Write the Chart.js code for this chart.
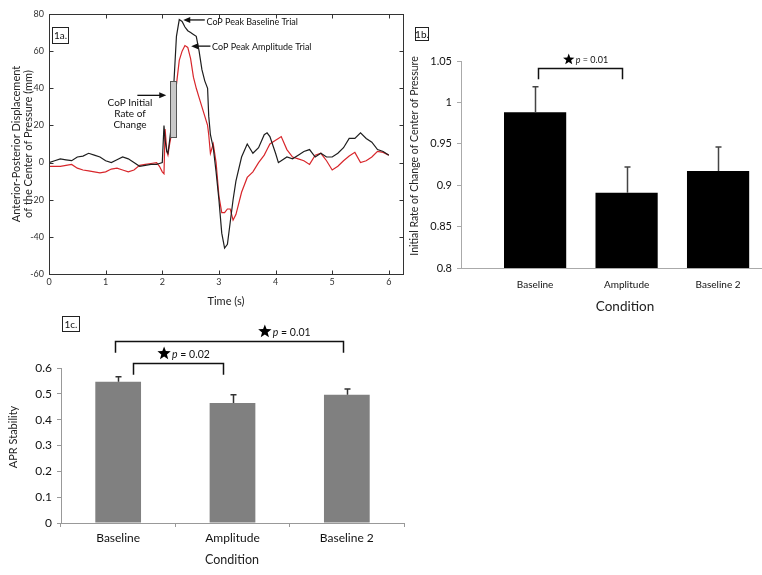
<!DOCTYPE html>
<html>
<head>
<meta charset="utf-8">
<script src="https://cdn.jsdelivr.net/npm/chart.js@4.4.0/dist/chart.umd.min.js"></script>
<style>
  html, body { margin: 0; padding: 0; background: #fff; }
  #wrap { position: relative; width: 762px; height: 575px; overflow: hidden; }
  canvas { position: absolute; }
</style>
</head>
<body>
<div id="wrap">
  <canvas id="chartA" width="410" height="310" style="left:0;top:0"></canvas>
  <canvas id="chartB" width="372" height="300" style="left:390px;top:20px"></canvas>
  <canvas id="chartC" width="420" height="265" style="left:0;top:310px"></canvas>
</div>
<script>
// ---- 1a: CoP trace (mm) ----
const timeS = [0, 0.1, 0.2, 0.3, 0.4, 0.5, 0.6, 0.7, 0.8, 0.9, 1.0, 1.1, 1.2, 1.3, 1.4, 1.5, 1.6, 1.7, 1.8, 1.9, 1.95,
  2.0, 2.03, 2.05, 2.08, 2.1, 2.13, 2.16, 2.2, 2.25, 2.3, 2.35, 2.4, 2.45, 2.5, 2.55, 2.6, 2.65, 2.7, 2.75, 2.8, 2.82,
  2.85, 2.9, 2.95, 3.0, 3.05, 3.1, 3.15, 3.2, 3.25, 3.3, 3.4, 3.5, 3.6, 3.7, 3.8, 3.85, 3.9, 4.0, 4.05, 4.1, 4.2, 4.3,
  4.4, 4.5, 4.6, 4.7, 4.8, 4.9, 5.0, 5.1, 5.2, 5.3, 5.4, 5.5, 5.6, 5.7, 5.8, 5.9, 6.0];
const baselineMm = [0, 1, 2, 1.5, 1, 3, 3.5, 5, 4, 3, 1, 0, 1.5, 3, 2, 0, -2, -1.5, -1, -1, -0.5,
  0, 20, 12, 6, 5, 12, 20, 40, 68, 77, 76, 73, 71, 70, 69, 68, 60, 50, 44, 40, 25,
  15, 8, -5, -20, -38, -46, -44, -32, -20, -10, 3, 10, 5, 8, 15, 16, 14, 5, 0, 1, 3, 2,
  4, 6, 7, 3, 5, 3, 3, 5, 8, 13, 13, 16, 13, 11, 7, 6, 4];
const amplitudeMm = [-2, -2, -2, -1.5, -1, -3, -4, -4.5, -5, -5.5, -5, -3.5, -3, -4, -5, -4, -1.5, -1, -0.5, 0, -2,
  -5, -6, 18, 6, 4, 10, 15, 22, 42, 55, 60, 63, 62, 56, 46, 40, 35, 30, 25, 20, 15,
  5, 10, 0, -18, -27, -27, -25, -25, -31, -28, -16, -8, -5, 0, 4, 7, 10, 12, 13, 14, 7, 3,
  2, 1, -1, 4, 5, 1, -4, -2, 1, 3.5, 5.5, 0, 1, 3, 6, 5.5, 4];
const timeTicks = [0, 1, 2, 3, 4, 5, 6];
const mmTicks = [-60, -40, -20, 0, 20, 40, 60, 80];

// ---- 1b / 1c: condition means ----
const conditions = ['Baseline', 'Amplitude', 'Baseline 2'];
const rateMeans = [0.988, 0.891, 0.917];
const rateErr = [0.031, 0.031, 0.029];
const rateTicks = [0.8, 0.85, 0.9, 0.95, 1, 1.05];
const aprMeans = [0.547, 0.465, 0.496];
const aprErr = [0.019, 0.031, 0.023];
const aprTicks = [0, 0.1, 0.2, 0.3, 0.4, 0.5, 0.6];

const FONT = "Lato, 'Open Sans', sans-serif";
Chart.defaults.font.family = FONT;
Chart.defaults.color = '#222';

function tickList(vals) {
  return scale => { scale.ticks = vals.map(v => ({ value: v })); };
}

function drawStar(ctx, cx, cy, r) {
  ctx.beginPath();
  for (let i = 0; i < 10; i++) {
    const rr = i % 2 ? r * 0.42 : r;
    const a = -Math.PI / 2 + i * Math.PI / 5;
    ctx.lineTo(cx + rr * Math.cos(a), cy + rr * Math.sin(a));
  }
  ctx.closePath();
  ctx.fill();
}

function drawPValue(ctx, x, y, text, size) {
  ctx.textBaseline = 'middle';
  ctx.textAlign = 'left';
  ctx.font = 'italic ' + size + 'px ' + FONT;
  ctx.fillText('p', x, y);
  const w = ctx.measureText('p').width;
  ctx.font = size + 'px ' + FONT;
  ctx.fillText(' = ' + text, x + w, y);
}

function labelBox(ctx, x, y, w, h, text) {
  ctx.strokeStyle = '#222';
  ctx.lineWidth = 1;
  ctx.strokeRect(x + 0.5, y + 0.5, w, h);
  ctx.fillStyle = '#111';
  ctx.font = '10px ' + FONT;
  ctx.textAlign = 'center';
  ctx.textBaseline = 'middle';
  ctx.fillText(text, x + w / 2 + 0.5, y + h / 2 + 1);
}

function arrow(ctx, x1, y1, x2, y2) {
  ctx.beginPath();
  ctx.moveTo(x1, y1);
  ctx.lineTo(x2 + (x1 > x2 ? 5 : -5), y2);
  ctx.stroke();
  const d = x1 > x2 ? 1 : -1;
  ctx.beginPath();
  ctx.moveTo(x2, y2);
  ctx.lineTo(x2 + d * 7, y2 - 3);
  ctx.lineTo(x2 + d * 7, y2 + 3);
  ctx.closePath();
  ctx.fill();
}

// frame, inward ticks and notes for 1a
const panelA = {
  id: 'panelA',
  afterDatasetsDraw(chart) {
    const { ctx, scales: { x, y } } = chart;
    const x1 = Math.round(x.getPixelForValue(2.13)), x2 = Math.round(x.getPixelForValue(2.24));
    const y1 = Math.round(y.getPixelForValue(44)), y2 = Math.round(y.getPixelForValue(14));
    ctx.save();
    ctx.fillStyle = '#c8c8c8';
    ctx.fillRect(x1, y1, x2 - x1, y2 - y1);
    ctx.strokeStyle = '#555';
    ctx.lineWidth = 1;
    ctx.strokeRect(x1 + 0.5, y1 + 0.5, x2 - x1, y2 - y1);
    ctx.restore();
  },
  afterDraw(chart) {
    const { ctx, chartArea: a, scales: { x, y } } = chart;
    ctx.save();
    ctx.strokeStyle = '#333';
    ctx.lineWidth = 1;
    const L = Math.round(a.left) + 0.5, R = Math.round(a.right) + 0.5;
    const T = Math.round(a.top) + 0.5, B = Math.round(a.bottom) + 0.5;
    ctx.strokeRect(L, T, R - L, B - T);
    ctx.beginPath();
    timeTicks.forEach(v => {
      const px = Math.round(x.getPixelForValue(v)) + 0.5;
      ctx.moveTo(px, B); ctx.lineTo(px, B - 4);
      ctx.moveTo(px, T); ctx.lineTo(px, T + 4);
    });
    mmTicks.forEach(v => {
      const py = Math.round(y.getPixelForValue(v)) + 0.5;
      ctx.moveTo(L, py); ctx.lineTo(L + 4, py);
      ctx.moveTo(R, py); ctx.lineTo(R - 4, py);
    });
    ctx.stroke();

    // annotations
    ctx.fillStyle = '#111';
    ctx.strokeStyle = '#111';
    ctx.lineWidth = 1.3;
    const ay1 = y.getPixelForValue(76.8);
    arrow(ctx, x.getPixelForValue(2.75), ay1, x.getPixelForValue(2.37), ay1);
    const ay2 = y.getPixelForValue(62.7);
    arrow(ctx, x.getPixelForValue(2.85), ay2, x.getPixelForValue(2.51), ay2);
    const ay3 = y.getPixelForValue(36.2);
    arrow(ctx, x.getPixelForValue(1.56), ay3, x.getPixelForValue(2.07), ay3);

    ctx.font = '9px ' + FONT;
    ctx.textBaseline = 'middle';
    ctx.textAlign = 'left';
    ctx.fillText('CoP Peak Baseline Trial', x.getPixelForValue(2.78), ay1 + 2);
    ctx.fillText('CoP Peak Amplitude Trial', x.getPixelForValue(2.88), ay2 + 1);
    ctx.font = '10px ' + FONT;
    ctx.textAlign = 'center';
    const cx = x.getPixelForValue(1.43);
    ctx.fillText('CoP Initial', cx, y.getPixelForValue(32.4));
    ctx.fillText('Rate of', cx, y.getPixelForValue(26.5));
    ctx.fillText('Change', cx, y.getPixelForValue(20.5));

    labelBox(ctx, a.left + 3, a.top + 13, 16, 16, '1a.');
    ctx.restore();
  }
};

// error bars + significance brackets for the bar panels
const barNotes = {
  id: 'barNotes',
  afterDatasetsDraw(chart, args, opts) {
    const { ctx, scales: { y } } = chart;
    const meta = chart.getDatasetMeta(0);
    ctx.save();
    ctx.strokeStyle = opts.errColor;
    ctx.lineWidth = 1.5;
    ctx.beginPath();
    meta.data.forEach((bar, i) => {
      const top = y.getPixelForValue(opts.means[i] + opts.errs[i]);
      const bx = Math.round(bar.x) + 0.5;
      ctx.moveTo(bx, bar.y);
      ctx.lineTo(bx, top);
      ctx.moveTo(bx - 3, top);
      ctx.lineTo(bx + 3, top);
    });
    ctx.stroke();
    ctx.restore();
  },
  afterDraw(chart, args, opts) {
    const { ctx, scales: { y } } = chart;
    const meta = chart.getDatasetMeta(0);
    ctx.save();
    opts.brackets.forEach(b => {
      const xa = Math.round(meta.data[b.from].x + b.dxFrom) + 0.5;
      const xb = Math.round(meta.data[b.to].x + b.dxTo) + 0.5;
      const yt = Math.round(y.getPixelForValue(b.top)) + 0.5;
      const yl = y.getPixelForValue(b.leg);
      ctx.strokeStyle = '#111';
      ctx.lineWidth = 1.5;
      ctx.beginPath();
      ctx.moveTo(xa, yl); ctx.lineTo(xa, yt); ctx.lineTo(xb, yt); ctx.lineTo(xb, yl);
      ctx.stroke();
      const sx = xa + (xb - xa) * b.starAt;
      const sy = yt - b.starR - 3;
      ctx.fillStyle = '#000';
      drawStar(ctx, sx, sy, b.starR);
      ctx.fillStyle = '#111';
      drawPValue(ctx, sx + b.starR + 1, sy + 1, b.p, b.size);
    });
    // axis titles drawn by hand where the figure offsets them
    ctx.fillStyle = '#222';
    ctx.textAlign = 'center';
    ctx.textBaseline = 'middle';
    if (opts.yTitle) {
      ctx.save();
      ctx.translate(opts.yTitle.x, opts.yTitle.y);
      ctx.rotate(-Math.PI / 2);
      ctx.font = opts.yTitle.size + 'px ' + FONT;
      ctx.fillText(opts.yTitle.text, 0, 0);
      ctx.restore();
    }
    if (opts.xTitle) {
      ctx.font = opts.xTitle.size + 'px ' + FONT;
      ctx.fillText(opts.xTitle.text, opts.xTitle.x, opts.xTitle.y);
    }
    labelBox(ctx, opts.box[0], opts.box[1], opts.box[2], opts.box[3], opts.box[4]);
    ctx.restore();
  }
};

// ---- chart 1a ----
new Chart(document.getElementById('chartA'), {
  type: 'line',
  data: {
    datasets: [
      {
        label: 'Baseline Trial',
        data: timeS.map((t, i) => ({ x: t, y: baselineMm[i] })),
        borderColor: '#1e1e1e',
        borderWidth: 1.2,
        pointRadius: 0,
        tension: 0
      },
      {
        label: 'Amplitude Trial',
        data: timeS.map((t, i) => ({ x: t, y: amplitudeMm[i] })),
        borderColor: '#d8262b',
        borderWidth: 1.2,
        pointRadius: 0,
        tension: 0
      }
    ]
  },
  options: {
    responsive: false,
    animation: false,
    layout: { padding: { top: 14, right: 7, left: 0, bottom: 0 } },
    plugins: { legend: { display: false }, tooltip: { enabled: false } },
    scales: {
      x: {
        type: 'linear',
        min: 0,
        max: 6.25,
        afterBuildTicks: tickList(timeTicks),
        afterFit: s => { s.height = 36; },
        grid: { display: false, drawTicks: false },
        border: { display: false },
        ticks: { padding: 3, font: { size: 9 }, color: '#333', maxRotation: 0 },
        title: { display: true, text: 'Time (s)', font: { size: 11 }, color: '#222', padding: { top: 4, bottom: 2 } }
      },
      y: {
        min: -60,
        max: 80,
        afterBuildTicks: tickList(mmTicks),
        afterFit: s => { s.width = 49; },
        grid: { display: false, drawTicks: false },
        border: { display: false },
        ticks: { padding: 5, font: { size: 9 }, color: '#333' },
        title: {
          display: true,
          text: ['Anterior-Posterior Displacement', 'of the Center of Pressure (mm)'],
          font: { size: 11, lineHeight: 1.1 },
          color: '#222',
          padding: { top: 10, bottom: 0 }
        }
      }
    }
  },
  plugins: [panelA]
});

// ---- chart 1b ----
new Chart(document.getElementById('chartB'), {
  type: 'bar',
  data: {
    datasets: [{
      label: 'Initial Rate of Change',
      data: rateMeans.map((v, i) => ({ x: i + 1, y: v })),
      backgroundColor: '#000',
      barPercentage: 0.68,
      categoryPercentage: 1
    }]
  },
  options: {
    responsive: false,
    animation: false,
    layout: { padding: { top: 41, right: 0, left: 0, bottom: 0 } },
    plugins: {
      legend: { display: false },
      tooltip: { enabled: false },
      barNotes: {
        means: rateMeans,
        errs: rateErr,
        errColor: '#444',
        brackets: [{ from: 0, to: 1, dxFrom: 3, dxTo: -5, top: 1.0415, leg: 1.028, starAt: 0.36, starR: 6, p: '0.01', size: 9 }],
        yTitle: { text: 'Initial Rate of Change of Center of Pressure', x: 25, y: 136, size: 10.5 },
        xTitle: { text: 'Condition', x: 235, y: 287, size: 13.5 },
        box: [25, 7, 13, 13, '1b.']
      }
    },
    scales: {
      x: {
        type: 'linear',
        offset: false,
        min: 0.19,
        max: 3.48,
        afterBuildTicks: tickList([1, 2, 3]),
        afterFit: s => { s.height = 52; },
        grid: { display: false, drawTicks: false, offset: false },
        border: { display: true, color: '#aaa', width: 1 },
        ticks: { padding: 11, font: { size: 10 }, color: '#111', maxRotation: 0, callback: v => conditions[Math.round(v) - 1] }
      },
      y: {
        min: 0.8,
        max: 1.05,
        afterBuildTicks: tickList(rateTicks),
        afterFit: s => { s.width = 71; },
        grid: { display: true, drawOnChartArea: false, drawTicks: true, tickLength: 4, color: '#aaa' },
        border: { display: true, color: '#aaa', width: 1 },
        ticks: { padding: 5, font: { size: 11 }, color: '#111', callback: v => String(parseFloat(v.toFixed(2))) }
      }
    }
  },
  plugins: [barNotes]
});

// ---- chart 1c ----
new Chart(document.getElementById('chartC'), {
  type: 'bar',
  data: {
    labels: conditions,
    datasets: [{
      label: 'APR Stability',
      data: aprMeans,
      backgroundColor: '#808080',
      barPercentage: 0.4,
      categoryPercentage: 1
    }]
  },
  options: {
    responsive: false,
    animation: false,
    layout: { padding: { top: 58, right: 16, left: 0, bottom: 0 } },
    plugins: {
      legend: { display: false },
      tooltip: { enabled: false },
      barNotes: {
        means: aprMeans,
        errs: aprErr,
        errColor: '#333',
        brackets: [
          { from: 0, to: 2, dxFrom: -3, dxTo: -4, top: 0.705, leg: 0.659, starAt: 0.655, starR: 7, p: '0.01', size: 10.5 },
          { from: 0, to: 1, dxFrom: 15, dxTo: -10, top: 0.62, leg: 0.574, starAt: 0.34, starR: 7, p: '0.02', size: 10.5 }
        ],
        yTitle: { text: 'APR Stability', x: 13, y: 127, size: 11 },
        xTitle: { text: 'Condition', x: 232, y: 250, size: 12.5 },
        box: [62, 6, 17, 15, '1c.']
      }
    },
    scales: {
      x: {
        afterFit: s => { s.height = 52; },
        grid: { display: true, drawOnChartArea: false, drawTicks: true, tickLength: 4, color: '#999', offset: true },
        border: { display: true, color: '#999', width: 1 },
        ticks: { padding: 4, font: { size: 12 }, color: '#111', maxRotation: 0 }
      },
      y: {
        min: 0,
        max: 0.6,
        afterBuildTicks: tickList(aprTicks),
        afterFit: s => { s.width = 61; },
        grid: { display: true, drawOnChartArea: false, drawTicks: true, tickLength: 4, color: '#999' },
        border: { display: true, color: '#999', width: 1 },
        ticks: { padding: 5, font: { size: 12 }, color: '#111', callback: v => String(parseFloat(v.toFixed(1))) }
      }
    }
  },
  plugins: [barNotes]
});
</script>
</body>
</html>
